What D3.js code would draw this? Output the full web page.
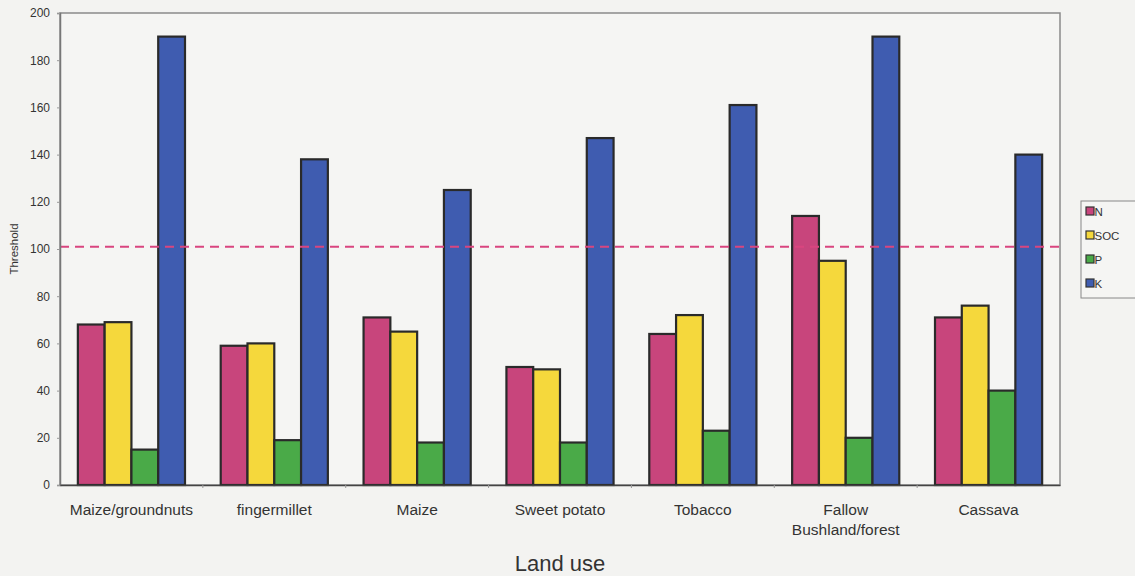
<!DOCTYPE html>
<html>
<head>
<meta charset="utf-8">
<script src="https://cdn.jsdelivr.net/npm/d3@7"></script>
<style>
  html, body { margin: 0; padding: 0; background: #f3f3f1; }
  svg { display: block; font-family: "Liberation Sans", Arial, sans-serif; }
</style>
</head>
<body>
<svg id="chart" width="1135" height="576"></svg>
<script>
// Nutrient thresholds by land use
const categories = ["Maize/groundnuts", "fingermillet", "Maize", "Sweet potato", "Tobacco", "Fallow\nBushland/forest", "Cassava"];
const seriesNames = ["N", "SOC", "P", "K"];
const valuesN   = [68, 59, 71, 50, 64, 114, 71];
const valuesSOC = [69, 60, 65, 49, 72, 95, 76];
const valuesP   = [15, 19, 18, 18, 23, 20, 40];
const valuesK   = [190, 138, 125, 147, 161, 190, 140];
const seriesColors = ["#c8457c", "#f5d83c", "#4aaa48", "#3f5cb0"];
const yTicks = [0, 20, 40, 60, 80, 100, 120, 140, 160, 180, 200];
const thresholdValue = 101;

const seriesValues = [valuesN, valuesSOC, valuesP, valuesK];

const svg = d3.select("#chart");
const plot = { left: 60, right: 1060, top: 13, bottom: 485 };

const x0 = d3.scaleBand().domain(categories).range([plot.left, plot.right]).paddingInner(0.25).paddingOuter(0.125);
const x1 = d3.scaleBand().domain(seriesNames).range([0, x0.bandwidth()]);
const y = d3.scaleLinear().domain([0, 200]).range([plot.bottom, plot.top]);

// plot area
svg.append("rect")
  .attr("x", plot.left).attr("y", plot.top)
  .attr("width", plot.right - plot.left).attr("height", plot.bottom - plot.top)
  .attr("fill", "#f5f5f3").attr("stroke", "#8a8a8a").attr("stroke-width", 1.5);

// bars
const groups = svg.append("g").selectAll("g")
  .data(categories).join("g")
  .attr("transform", d => `translate(${x0(d)},0)`);

groups.selectAll("rect")
  .data((c, i) => seriesNames.map((s, j) => ({ s, j, v: seriesValues[j][i] })))
  .join("rect")
  .attr("x", d => x1(d.s))
  .attr("y", d => y(d.v))
  .attr("width", x1.bandwidth())
  .attr("height", d => y(0) - y(d.v))
  .attr("fill", d => seriesColors[d.j])
  .attr("stroke", "#2a2a2a")
  .attr("stroke-width", 2.2);

// threshold line
svg.append("line")
  .attr("x1", plot.left).attr("x2", plot.right)
  .attr("y1", y(thresholdValue)).attr("y2", y(thresholdValue))
  .attr("stroke", "#d9457f").attr("stroke-width", 2)
  .attr("stroke-dasharray", "9,6");

// y axis
const yAxis = svg.append("g")
  .attr("transform", `translate(${plot.left},0)`)
  .call(d3.axisLeft(y).tickValues(yTicks).tickSize(3).tickPadding(7));
yAxis.select(".domain").attr("stroke", "#777").attr("stroke-width", 1.5);
yAxis.selectAll(".tick line").attr("stroke", "#999");
yAxis.selectAll(".tick text").attr("font-size", 12).attr("fill", "#333");

// x axis
const xAxis = svg.append("g")
  .attr("transform", `translate(0,${plot.bottom})`)
  .call(d3.axisBottom(x0).tickSize(0).tickPadding(19));
xAxis.select(".domain").attr("stroke", "#444").attr("stroke-width", 1.5);
xAxis.selectAll(".tick text").each(function(d) {
  const t = d3.select(this);
  const lines = d.split("\n");
  t.text(null);
  lines.forEach((ln, k) => t.append("tspan").attr("x", 0).attr("dy", k === 0 ? "0.71em" : "1.3em").text(ln));
}).attr("font-size", 15.5).attr("fill", "#333");

// separators between categories
const seps = d3.range(1, categories.length).map(i => (x0(categories[i - 1]) + x0.bandwidth() + x0(categories[i])) / 2);
svg.append("g").selectAll("line").data(seps).join("line")
  .attr("x1", d => d).attr("x2", d => d)
  .attr("y1", plot.bottom).attr("y2", plot.bottom + 3)
  .attr("stroke", "#999");

// axis titles
svg.append("text")
  .attr("x", (plot.left + plot.right) / 2).attr("y", 571)
  .attr("text-anchor", "middle").attr("font-size", 22).attr("fill", "#333")
  .text("Land use");
svg.append("text")
  .attr("transform", `translate(18,${y(100)}) rotate(-90)`)
  .attr("text-anchor", "middle").attr("font-size", 11.5).attr("fill", "#333")
  .text("Threshold");

// legend
const legend = svg.append("g").attr("transform", "translate(1081,201)");
legend.append("rect").attr("width", 60).attr("height", 97)
  .attr("fill", "#f5f5f3").attr("stroke", "#888").attr("stroke-width", 1);
const items = legend.selectAll("g.item").data(seriesNames).join("g")
  .attr("class", "item")
  .attr("transform", (d, i) => `translate(5,${10 + i * 24})`);
items.append("rect").attr("x", 0).attr("y", -4).attr("width", 8).attr("height", 8)
  .attr("fill", (d, i) => seriesColors[i]).attr("stroke", "#333").attr("stroke-width", 1.2);
items.append("text").attr("x", 8.5).attr("y", 4.5).attr("font-size", 11.5)
  .attr("fill", "#333").text(d => d);
</script>
</body>
</html>
